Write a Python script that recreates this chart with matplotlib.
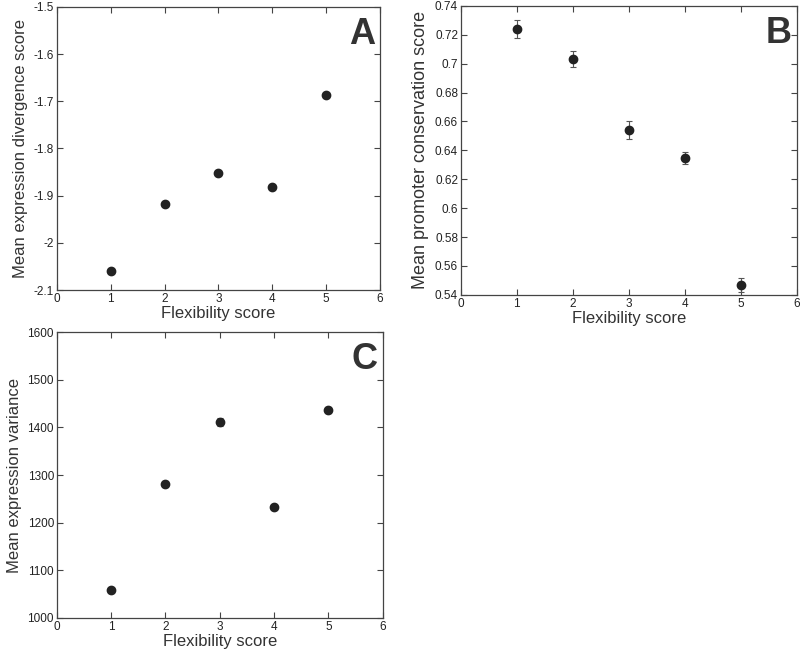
import numpy as np
import matplotlib.pyplot as plt

plt.rcParams['font.family'] = ['Liberation Sans', 'DejaVu Sans']

flex = [1, 2, 3, 4, 5]

div_mean = [-2.060, -1.917, -1.853, -1.882, -1.687]
div_err = [0.003, 0.003, 0.004, 0.004, 0.004]

cons_mean = [0.724, 0.703, 0.654, 0.635, 0.547]
cons_err = [0.0065, 0.0055, 0.006, 0.0042, 0.005]

var_mean = [1058, 1281, 1412, 1232, 1437]
var_err = [4, 6, 8, 4, 6]

panels = [
    ([0.071, 0.5545, 0.404, 0.435], div_mean, div_err, 'Mean expression divergence score',
     (-2.1, -1.5), np.arange(-2.1, -1.49, 0.1), 'A', lambda v: '%g' % round(v, 1), 12),
    ([0.576, 0.547, 0.42, 0.444], cons_mean, cons_err, 'Mean promoter conservation score',
     (0.54, 0.74), np.arange(0.54, 0.741, 0.02), 'B', lambda v: '%g' % round(v, 2), 13),
    ([0.071, 0.0507, 0.4075, 0.439], var_mean, var_err, 'Mean expression variance',
     (1000, 1600), np.arange(1000, 1601, 100), 'C', lambda v: '%d' % v, 12),
]

fig = plt.figure(figsize=(8, 6.51), dpi=100)
for rect, ys, errs, ylab, ylim, yticks, letter, fmt, ylab_size in panels:
    ax = fig.add_axes(rect)
    ax.errorbar(flex, ys, yerr=errs, fmt='o', color='#222222', ecolor='#555555',
                markersize=6, elinewidth=0.8, capsize=2, capthick=0.8)
    ax.set_xlim(0, 6)
    ax.set_ylim(*ylim)
    ax.set_xticks(range(7))
    ax.set_yticks(yticks)
    ax.set_yticklabels([fmt(v) for v in yticks])
    ax.tick_params(direction='in', top=True, right=True, labelsize=8.5, length=4,
                   width=0.8, color='#444444', labelcolor='#222222', pad=2)
    for s in ax.spines.values():
        s.set_color('#444444')
        s.set_linewidth(0.9)
    ax.set_xlabel('Flexibility score', fontsize=12, color='#333333', labelpad=1)
    ax.set_ylabel(ylab, fontsize=ylab_size, color='#333333', labelpad=4)
    ax.text(0.985, 0.965, letter, transform=ax.transAxes, ha='right', va='top',
            fontsize=26, fontweight='bold', color='#333333')

fig.savefig('out.png', dpi=100)
